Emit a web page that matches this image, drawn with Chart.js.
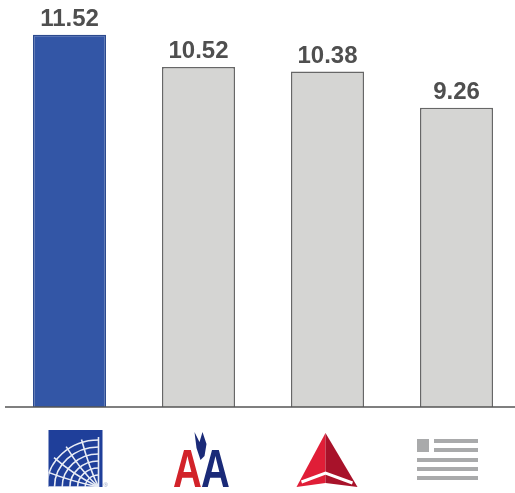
<!DOCTYPE html>
<html>
<head>
<meta charset="utf-8">
<script src="https://cdn.jsdelivr.net/npm/chart.js@4"></script>
<style>
  html, body { margin: 0; padding: 0; background: #fff; overflow: hidden; }
  #wrap { width: 515px; height: 493px; overflow: hidden; }
</style>
</head>
<body>
<div id="wrap"><canvas id="chart" width="521" height="493"></canvas></div>
<script>
// datos del grafico
const airlines = ['United', 'American', 'Delta', 'US Airways'];
const values = [11.52, 10.52, 10.38, 9.26];
const barColors = ['#3356a6', '#d5d5d3', '#d5d5d3', '#d5d5d3'];
const borderColors = ['#2c4a8e', '#676767', '#676767', '#676767'];

// etiquetas de valor sobre cada barra
const valueLabels = {
  id: 'valueLabels',
  afterDatasetsDraw(chart) {
    const ctx = chart.ctx;
    const meta = chart.getDatasetMeta(0);
    ctx.save();
    ctx.font = 'bold 24px "Liberation Sans", Arial, sans-serif';
    ctx.fillStyle = '#4f4f4f';
    ctx.textAlign = 'center';
    ctx.textBaseline = 'alphabetic';
    meta.data.forEach((bar, i) => {
      ctx.fillText(values[i].toFixed(2), bar.x, bar.y - 9);
    });
    ctx.restore();
  }
};

// linea base y logotipos debajo del eje
const baseAndLogos = {
  id: 'baseAndLogos',
  afterDraw(chart) {
    const ctx = chart.ctx;
    const area = chart.chartArea;
    const x = chart.scales.x;
    ctx.save();
    ctx.strokeStyle = '#555555';
    ctx.lineWidth = 1.5;
    ctx.beginPath();
    ctx.moveTo(5, area.bottom);
    ctx.lineTo(chart.width, area.bottom);
    ctx.stroke();

    const top = area.bottom + 23;
    drawUnited(ctx, x.getPixelForValue(0), top);
    drawAmerican(ctx, x.getPixelForValue(1), top);
    drawDelta(ctx, x.getPixelForValue(2), top);
    drawFlag(ctx, x.getPixelForValue(3), top);
    ctx.restore();
  }
};

function drawUnited(ctx, cx, top) {
  const l = cx - 21, w = 54, h = 57;
  ctx.save();
  ctx.fillStyle = '#1f3f9a';
  ctx.fillRect(l, top, w, h);
  ctx.beginPath();
  ctx.rect(l, top, w, h);
  ctx.clip();
  // globo
  const gx = l + w - 4, gy = top + h;
  ctx.strokeStyle = '#e8ecf5';
  ctx.lineWidth = 1.6;
  for (let r = 12; r <= 50; r += 7) {
    ctx.beginPath();
    ctx.ellipse(gx, gy, r * 1.1, r, 0, Math.PI, Math.PI * 1.5);
    ctx.stroke();
  }
  for (let a = 0; a < 6; a++) {
    const ang = Math.PI + a * (Math.PI / 2) / 5;
    ctx.beginPath();
    ctx.moveTo(gx, gy);
    ctx.quadraticCurveTo(gx + Math.cos(ang) * 30, gy + Math.sin(ang) * 20, gx + Math.cos(ang) * 55, gy + Math.sin(ang) * 50);
    ctx.stroke();
  }
  ctx.restore();
  ctx.fillStyle = '#8899bb';
  ctx.font = '6px sans-serif';
  ctx.fillText('®', l + w + 1, top + h);
}

function drawAmerican(ctx, cx, top) {
  ctx.save();
  ctx.font = 'bold 54px "Liberation Sans", Arial, sans-serif';
  ctx.textBaseline = 'alphabetic';
  ctx.textAlign = 'center';
  ctx.save();
  ctx.translate(cx - 11, top + 57);
  ctx.scale(0.74, 1);
  ctx.fillStyle = '#d2232a';
  ctx.fillText('A', 0, 0);
  ctx.restore();
  ctx.save();
  ctx.translate(cx + 17, top + 57);
  ctx.scale(0.74, 1);
  ctx.fillStyle = '#1a2a78';
  ctx.fillText('A', 0, 0);
  ctx.restore();
  // aguila
  ctx.fillStyle = '#1a2a78';
  ctx.beginPath();
  ctx.moveTo(cx - 4, top + 2);
  ctx.lineTo(cx + 1, top + 12);
  ctx.lineTo(cx + 4, top + 2);
  ctx.lineTo(cx + 8, top + 14);
  ctx.lineTo(cx + 6, top + 26);
  ctx.lineTo(cx + 2, top + 30);
  ctx.lineTo(cx - 2, top + 18);
  ctx.closePath();
  ctx.fill();
  ctx.restore();
}

function drawDelta(ctx, cx, top) {
  const apexY = top + 3, baseY = top + 57;
  ctx.save();
  ctx.fillStyle = '#e01e37';
  ctx.beginPath();
  ctx.moveTo(cx - 2, apexY);
  ctx.lineTo(cx - 31, baseY);
  ctx.lineTo(cx - 2, baseY - 4);
  ctx.closePath();
  ctx.fill();
  ctx.fillStyle = '#a8122a';
  ctx.beginPath();
  ctx.moveTo(cx - 2, apexY);
  ctx.lineTo(cx + 30, baseY);
  ctx.lineTo(cx - 2, baseY - 4);
  ctx.closePath();
  ctx.fill();
  ctx.strokeStyle = '#ffffff';
  ctx.lineWidth = 3;
  ctx.beginPath();
  ctx.moveTo(cx - 26, baseY - 5);
  ctx.lineTo(cx - 2, baseY - 14);
  ctx.lineTo(cx + 25, baseY - 4);
  ctx.stroke();
  ctx.restore();
}

function drawFlag(ctx, cx, top) {
  const l = cx - 39.5, t = top + 9;
  ctx.save();
  ctx.fillStyle = '#a9aaab';
  ctx.fillRect(l, t, 12, 13);
  ctx.fillRect(l + 17, t, 44, 4);
  ctx.fillRect(l + 17, t + 9, 44, 4);
  ctx.fillRect(l, t + 19, 61, 4);
  ctx.fillRect(l, t + 28, 61, 4);
  ctx.fillRect(l, t + 37, 61, 4);
  ctx.restore();
}

const ctx = document.getElementById('chart').getContext('2d');
const chart = new Chart(ctx, {
  type: 'bar',
  data: {
    labels: airlines,
    datasets: [{
      data: values,
      backgroundColor: barColors,
      borderColor: borderColors,
      borderWidth: 1.5,
      borderSkipped: 'bottom',
      barPercentage: 0.566,
      categoryPercentage: 1.0
    }]
  },
  options: {
    responsive: false,
    animation: false,
    layout: { padding: { left: 5, right: 0, top: 3, bottom: 86 } },
    scales: {
      x: { display: false },
      y: { display: false, min: 0, max: 12.5 }
    },
    plugins: {
      legend: { display: false },
      tooltip: { enabled: false }
    }
  },
  plugins: [valueLabels, baseAndLogos]
});
</script>
</body>
</html>
